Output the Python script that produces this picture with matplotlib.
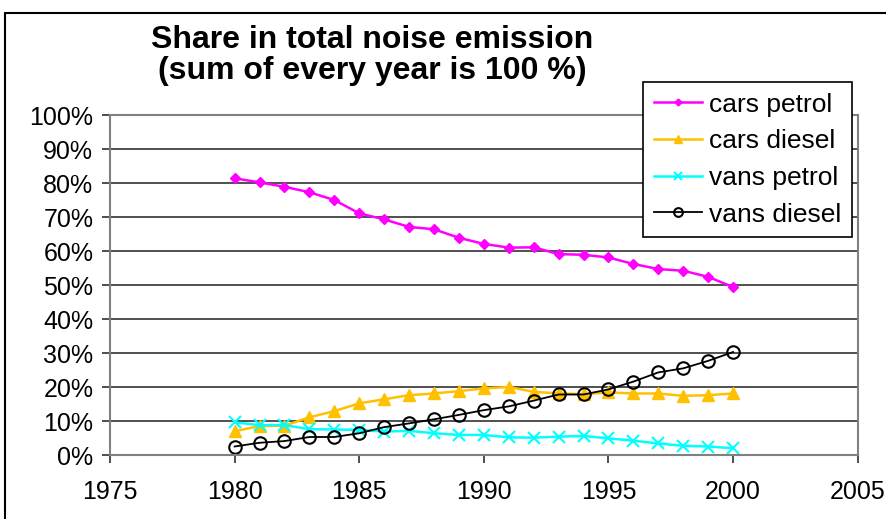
import matplotlib.pyplot as plt
from matplotlib.patches import Rectangle

plt.rcParams['font.family'] = ['Liberation Sans', 'DejaVu Sans']

years = list(range(1980, 2001))
cars_petrol = [81.4, 80.2, 78.9, 77.3, 75.0, 71.1, 69.3, 67.1, 66.4, 63.9, 62.1,
               61.0, 61.1, 59.1, 58.9, 58.1, 56.2, 54.7, 54.2, 52.4, 49.4]
cars_diesel = [7.0, 8.5, 8.6, 11.1, 12.9, 15.2, 16.4, 17.6, 18.1, 18.8, 19.6,
               20.0, 18.6, 18.1, 17.9, 18.4, 18.1, 18.1, 17.4, 17.6, 18.1]
vans_petrol = [9.6, 8.8, 8.8, 7.6, 7.5, 7.4, 6.9, 7.1, 6.4, 5.9, 5.9,
               5.2, 5.1, 5.4, 5.6, 4.9, 4.2, 3.4, 2.7, 2.5, 2.0]
vans_diesel = [2.5, 3.6, 4.1, 5.3, 5.3, 6.4, 8.2, 9.3, 10.5, 11.8, 13.2,
               14.3, 16.0, 17.8, 17.8, 19.3, 21.6, 24.3, 25.5, 27.7, 30.3]

fig = plt.figure(figsize=(8.87, 5.19), dpi=100)
ax = fig.add_axes([0.124, 0.1233, 0.843, 0.655])

ax.plot(years, cars_petrol, color="#FF00FF", marker="D", markersize=5,
        linewidth=1.8, label="cars petrol")
ax.plot(years, cars_diesel, color="#FFC000", marker="^", markersize=9,
        linewidth=1.8, label="cars diesel")
ax.plot(years, vans_petrol, color="#00FFFF", marker="x", markersize=9,
        markeredgewidth=1.5, linewidth=1.8, label="vans petrol")
ax.plot(years, vans_diesel, color="black", marker="o", markersize=9,
        markerfacecolor="none", markeredgewidth=1.5, linewidth=1.3,
        label="vans diesel")

ax.set_xlim(1975, 2005)
ax.set_ylim(0, 100)
ax.set_xticks(range(1975, 2006, 5))
ax.set_yticks(range(0, 101, 10))
ax.set_yticklabels([f"{v}%" for v in range(0, 101, 10)])
ax.tick_params(labelsize=18, length=6, width=1.2, color="#303030")
ax.tick_params(axis="x", pad=12)
ax.tick_params(axis="y", pad=6)
ax.yaxis.grid(True, color="#202020", linewidth=1.1)
ax.set_axisbelow(True)
for s in ax.spines.values():
    s.set_color("#808080")
    s.set_linewidth(1.5)

fig.text(0.42, 0.893, "Share in total noise emission\n(sum of every year is 100 %)",
         ha="center", va="center", fontsize=23, fontweight="bold",
         linespacing=1.05)

leg = ax.legend(loc="upper left", bbox_to_anchor=(0.725, 0.842),
                bbox_transform=fig.transFigure, fontsize=19, fancybox=False,
                framealpha=1, edgecolor="black", handlelength=1.85,
                handletextpad=0.25, numpoints=1, markerscale=0.7,
                borderpad=0.4, labelspacing=0.48, borderaxespad=0)
leg.get_frame().set_linewidth(1.2)

fig.patches.append(Rectangle((0.006, -0.1), 1.1, 1.075, transform=fig.transFigure,
                             fill=False, edgecolor="black", linewidth=1.5))

fig.savefig("out.png", dpi=100)
